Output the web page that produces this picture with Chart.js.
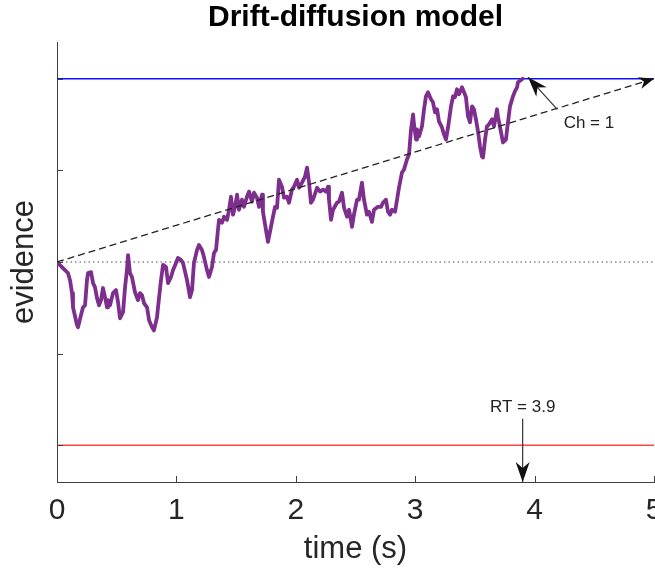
<!DOCTYPE html>
<html>
<head>
<meta charset="utf-8">
<title>Drift-diffusion model</title>
<style>
    body { margin: 0; background: #fff; }
</style>
</head>
<body>
<canvas id="ddmChart" width="655" height="569"></canvas>

<script src="https://cdn.jsdelivr.net/npm/chart.js"></script>
<script>
    // trajectory
    const timeS = [
        0, 0.050, 0.092, 0.109, 0.126, 0.134, 0.168, 0.176, 0.201, 0.218, 0.235, 0.251, 0.260, 0.285, 0.302, 0.318,
        0.335, 0.352, 0.369, 0.385, 0.402, 0.419, 0.427, 0.444, 0.469, 0.494, 0.511, 0.528, 0.553, 0.570, 0.586, 0.595,
        0.611, 0.628, 0.653, 0.678, 0.695, 0.712, 0.729, 0.754, 0.771, 0.796, 0.812, 0.838, 0.846, 0.871, 0.888, 0.913,
        0.930, 0.955, 0.972, 0.997, 1.013, 1.039, 1.055, 1.089, 1.114, 1.131, 1.147, 1.173, 1.189, 1.214, 1.231, 1.256,
        1.273, 1.298, 1.315, 1.332, 1.348, 1.357, 1.382, 1.399, 1.424, 1.441, 1.457, 1.474, 1.491, 1.508, 1.524, 1.549,
        1.566, 1.591, 1.608, 1.633, 1.650, 1.675, 1.692, 1.717, 1.725, 1.750, 1.767, 1.792, 1.809, 1.826, 1.843, 1.859,
        1.884, 1.901, 1.926, 1.943, 1.968, 1.985, 2.010, 2.027, 2.052, 2.077, 2.094, 2.111, 2.127, 2.144, 2.178, 2.203,
        2.228, 2.253, 2.270, 2.278, 2.295, 2.312, 2.345, 2.362, 2.387, 2.404, 2.429, 2.446, 2.471, 2.487, 2.513, 2.529,
        2.554, 2.571, 2.596, 2.613, 2.638, 2.655, 2.688, 2.714, 2.730, 2.755, 2.772, 2.789, 2.806, 2.831, 2.848, 2.864,
        2.889, 2.906, 2.931, 2.948, 2.965, 2.982, 2.990, 3.007, 3.015, 3.032, 3.057, 3.074, 3.090, 3.107, 3.132, 3.149,
        3.166, 3.183, 3.199, 3.224, 3.241, 3.258, 3.275, 3.300, 3.317, 3.333, 3.350, 3.367, 3.392, 3.409, 3.425, 3.442,
        3.459, 3.476, 3.492, 3.509, 3.526, 3.543, 3.559, 3.568, 3.585, 3.601, 3.618, 3.643, 3.660, 3.685, 3.693, 3.719,
        3.735, 3.760, 3.777, 3.794, 3.819, 3.836, 3.853, 3.861, 3.900
    ];
    const evidence = [
        0, -0.033, -0.060, -0.099, -0.170, -0.247, -0.345, -0.356, -0.290, -0.247, -0.236, -0.099, -0.060, -0.055, -0.115, -0.137,
        -0.197, -0.236, -0.208, -0.142, -0.192, -0.247, -0.208, -0.236, -0.170, -0.153, -0.219, -0.307, -0.274, -0.137, -0.044, 0.038,
        -0.060, -0.082, -0.164, -0.208, -0.170, -0.181, -0.225, -0.247, -0.318, -0.356, -0.373, -0.301, -0.247, -0.099, -0.016, -0.027,
        -0.115, -0.082, -0.044, -0.005, 0.022, 0.011, -0.005, -0.099, -0.192, -0.153, -0.005, 0.066, 0.093, 0.066, 0.027, -0.044,
        -0.082, -0.027, 0.049, 0.066, 0.175, 0.230, 0.214, 0.247, 0.230, 0.285, 0.356, 0.258, 0.301, 0.367, 0.285, 0.340,
        0.301, 0.356, 0.384, 0.329, 0.378, 0.351, 0.301, 0.367, 0.274, 0.175, 0.110, 0.192, 0.247, 0.301, 0.296, 0.449,
        0.411, 0.351, 0.356, 0.323, 0.395, 0.411, 0.449, 0.405, 0.433, 0.466, 0.515, 0.433, 0.323, 0.340, 0.405, 0.384,
        0.395, 0.384, 0.411, 0.340, 0.230, 0.285, 0.323, 0.329, 0.378, 0.296, 0.247, 0.285, 0.192, 0.258, 0.340, 0.340,
        0.433, 0.340, 0.258, 0.274, 0.219, 0.285, 0.301, 0.301, 0.323, 0.340, 0.274, 0.258, 0.285, 0.274, 0.340, 0.405,
        0.488, 0.504, 0.559, 0.586, 0.723, 0.805, 0.751, 0.668, 0.723, 0.685, 0.740, 0.833, 0.904, 0.926, 0.888, 0.871,
        0.816, 0.833, 0.767, 0.734, 0.696, 0.668, 0.734, 0.849, 0.904, 0.899, 0.942, 0.915, 0.953, 0.926, 0.899, 0.795,
        0.762, 0.849, 0.833, 0.778, 0.712, 0.630, 0.575, 0.570, 0.668, 0.740, 0.751, 0.778, 0.740, 0.833, 0.795, 0.707,
        0.652, 0.668, 0.762, 0.849, 0.904, 0.932, 0.953, 0.981, 1.000
    ];

    // model lines
    const lineTimes = [0, 5];
    const upperBound = [1, 1];
    const lowerBound = [-1, -1];
    const startPoint = [0, 0];
    const driftLine = [0, 1];

    // axis ticks
    const xTicks = [0, 1, 2, 3, 4, 5];
    const yTicks = [-1, -0.5, 0, 0.5, 1];

    // annotations (data units)
    const choiceLabel = 'Ch = 1';
    const choiceText = [4.455, 0.756];
    const choiceTail = [4.19, 0.833];
    const choiceTip = [3.945, 1.008];
    const rtValue = 3.9;
    const rtLabel = 'RT = 3.9';
    const rtTextY = -0.795;
    const rtTailY = -0.855;

    const toXY = (xs, ys) => xs.map((x, i) => ({ x: x, y: ys[i] }));

    function arrowHead(c, fx, fy, tx, ty, len, half) {
        const a = Math.atan2(ty - fy, tx - fx);
        c.save();
        c.translate(tx, ty);
        c.rotate(a);
        c.beginPath();
        c.moveTo(0, 0);
        c.lineTo(-len, -half);
        c.lineTo(-len * 0.7, 0);
        c.lineTo(-len, half);
        c.closePath();
        c.fill();
        c.restore();
    }

    const extras = {
        id: 'extras',
        afterDatasetsDraw(chart) {
            const c = chart.ctx;
            const x = chart.scales.x, y = chart.scales.y;
            const area = chart.chartArea;

            // inward tick marks
            c.save();
            c.strokeStyle = '#404040';
            c.lineWidth = 1;
            xTicks.forEach(v => {
                const px = Math.round(x.getPixelForValue(v)) + 0.5;
                c.beginPath(); c.moveTo(px, area.bottom); c.lineTo(px, area.bottom - 6); c.stroke();
            });
            yTicks.forEach(v => {
                const py = Math.round(y.getPixelForValue(v)) + 0.5;
                c.beginPath(); c.moveTo(area.left, py); c.lineTo(area.left + 6, py); c.stroke();
            });
            c.restore();

            c.save();
            c.fillStyle = '#111';
            // drift arrow head
            arrowHead(c, x.getPixelForValue(lineTimes[0]), y.getPixelForValue(driftLine[0]),
                x.getPixelForValue(lineTimes[1]), y.getPixelForValue(driftLine[1]), 15, 6);

            // choice arrow
            const cx0 = x.getPixelForValue(choiceTail[0]), cy0 = y.getPixelForValue(choiceTail[1]);
            const cx1 = x.getPixelForValue(choiceTip[0]), cy1 = y.getPixelForValue(choiceTip[1]);
            c.strokeStyle = '#333';
            c.lineWidth = 1.2;
            c.beginPath(); c.moveTo(cx0, cy0); c.lineTo(cx1, cy1); c.stroke();
            arrowHead(c, cx0, cy0, cx1, cy1, 20, 7);

            // RT arrow
            const rx = x.getPixelForValue(rtValue);
            const ry0 = y.getPixelForValue(rtTailY);
            c.beginPath(); c.moveTo(rx, ry0); c.lineTo(rx, area.bottom); c.stroke();
            arrowHead(c, rx, ry0, rx, area.bottom, 20, 7);

            c.font = '17px "Liberation Sans", Arial, sans-serif';
            c.textAlign = 'center';
            c.textBaseline = 'middle';
            c.fillStyle = '#222';
            c.fillText(choiceLabel, x.getPixelForValue(choiceText[0]), y.getPixelForValue(choiceText[1]));
            c.fillText(rtLabel, rx, y.getPixelForValue(rtTextY));
            c.restore();
        }
    };

    const ctx = document.getElementById('ddmChart').getContext('2d');
    const ddmChart = new Chart(ctx, {
        type: 'line',
        data: {
            datasets: [
                {
                    label: 'drift',
                    data: toXY(lineTimes, driftLine),
                    borderColor: '#222',
                    borderWidth: 1.3,
                    borderDash: [7, 4],
                    pointRadius: 0,
                    order: 0
                },
                {
                    label: 'evidence',
                    data: toXY(timeS, evidence),
                    borderColor: '#7E2F8E',
                    borderWidth: 3.8,
                    borderJoinStyle: 'round',
                    borderCapStyle: 'round',
                    pointRadius: 0,
                    tension: 0,
                    order: 1
                },
                {
                    label: 'upper bound',
                    data: toXY(lineTimes, upperBound),
                    borderColor: '#1010ff',
                    borderWidth: 1.5,
                    pointRadius: 0,
                    order: 2
                },
                {
                    label: 'lower bound',
                    data: toXY(lineTimes, lowerBound),
                    borderColor: '#ff4545',
                    borderWidth: 1.5,
                    pointRadius: 0,
                    order: 2
                },
                {
                    label: 'start',
                    data: toXY(lineTimes, startPoint),
                    borderColor: '#8a8a8a',
                    borderWidth: 1.4,
                    borderDash: [1.5, 3],
                    pointRadius: 0,
                    order: 3
                }
            ]
        },
        options: {
            responsive: false,
            animation: false,
            layout: { padding: { left: 0, right: 1, top: 0, bottom: 0 } },
            plugins: {
                legend: { display: false },
                tooltip: { enabled: false },
                title: {
                    display: true,
                    fullSize: false,
                    text: 'Drift-diffusion model',
                    color: '#000',
                    font: { family: '"Liberation Sans", Arial, sans-serif', size: 30, weight: 'bold' },
                    padding: { top: 0, bottom: 6 }
                }
            },
            scales: {
                x: {
                    type: 'linear',
                    min: 0,
                    max: 5,
                    afterFit: s => { s.height = 87; s.paddingLeft = 0; s.paddingRight = 0; },
                    afterBuildTicks: s => { s.ticks = xTicks.map(v => ({ value: v })); },
                    grid: { display: false, drawTicks: false },
                    border: { display: true, color: '#404040', width: 1 },
                    ticks: {
                        padding: 11,
                        maxRotation: 0,
                        color: '#262626',
                        font: { family: '"Liberation Sans", Arial, sans-serif', size: 30 }
                    },
                    title: {
                        display: true,
                        text: 'time (s)',
                        color: '#262626',
                        font: { family: '"Liberation Sans", Arial, sans-serif', size: 31 },
                        padding: { top: 0, bottom: 1 }
                    }
                },
                y: {
                    min: -1.2,
                    max: 1.2,
                    afterFit: s => { s.width = 57; },
                    afterBuildTicks: s => { s.ticks = yTicks.map(v => ({ value: v })); },
                    grid: { display: false, drawTicks: false },
                    border: { display: true, color: '#404040', width: 1 },
                    ticks: { display: false },
                    title: {
                        display: true,
                        text: 'evidence',
                        color: '#262626',
                        font: { family: '"Liberation Sans", Arial, sans-serif', size: 31 },
                        padding: { top: 6, bottom: 0 }
                    }
                }
            }
        },
        plugins: [extras]
    });
</script>
</body>
</html>
